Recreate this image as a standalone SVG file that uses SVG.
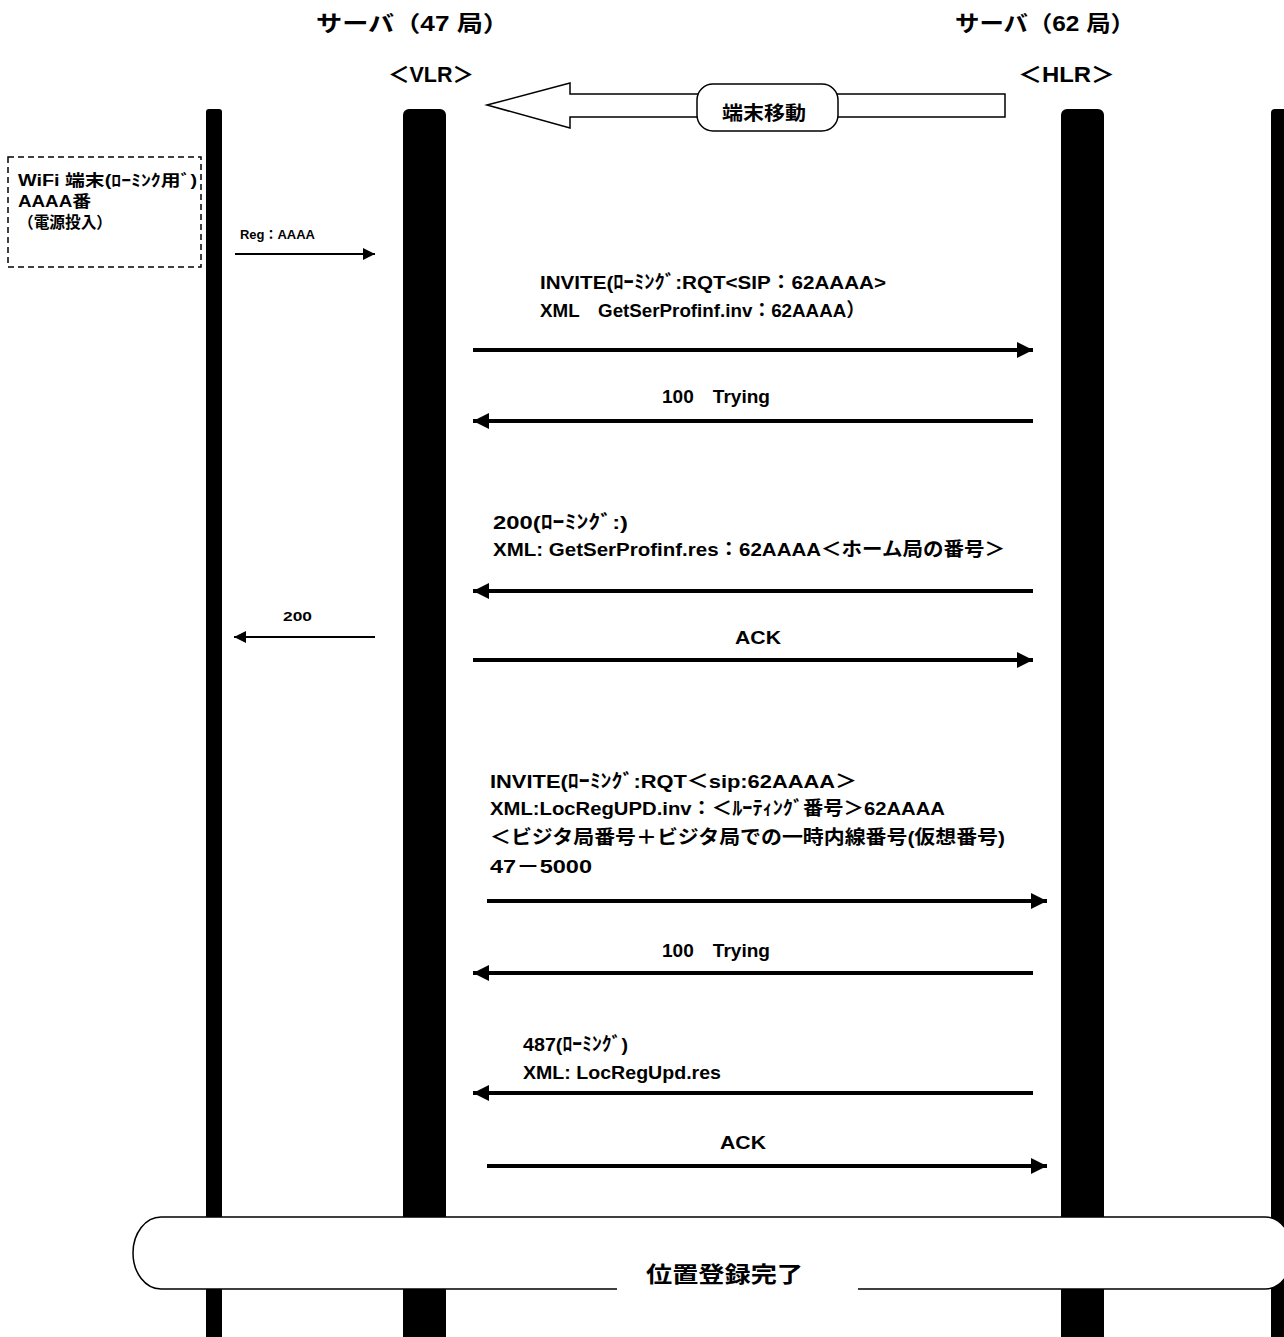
<svg xmlns="http://www.w3.org/2000/svg" width="1284" height="1337" viewBox="0 0 1284 1337">
<style>
text{font-family:"Liberation Sans","Noto Sans CJK JP",sans-serif;font-weight:bold;fill:#000}
.m{font-size:19px}
.s{font-size:13px}
.h{font-size:22px}
.msg{stroke:#000;stroke-width:4;fill:none}
.thin{stroke:#000;stroke-width:2;fill:none}
</style>
<defs>
<marker id="ah" viewBox="0 0 10 10" refX="10" refY="5" markerWidth="4.5" markerHeight="4" orient="auto" markerUnits="strokeWidth"><path d="M0,0 L10,5 L0,10 Z" fill="#000"/></marker>
<marker id="ahs" viewBox="0 0 10 10" refX="10" refY="5" markerWidth="8" markerHeight="6" orient="auto" markerUnits="strokeWidth"><path d="M0,0 L10,5 L0,10 Z" fill="#000"/></marker>
</defs>
<rect width="1284" height="1337" fill="#fff"/>

<g id="headers">
<text class="h" x="316" y="31" textLength="193" lengthAdjust="spacingAndGlyphs">サーバ（47 局）</text>
<text class="h" x="388" y="82" textLength="86" lengthAdjust="spacingAndGlyphs">＜VLR＞</text>
<text class="h" x="955" y="31" textLength="180" lengthAdjust="spacingAndGlyphs">サーバ（62 局）</text>
<text class="h" x="1018" y="82" textLength="97" lengthAdjust="spacingAndGlyphs">＜HLR＞</text>
</g>

<g id="lifeline-terminal"><rect x="206" y="109" width="16" height="1240" rx="3" fill="#000"/></g>
<g id="lifeline-vlr"><rect x="403" y="109" width="43" height="1240" rx="6" fill="#000"/></g>
<g id="lifeline-hlr"><rect x="1061" y="109" width="43" height="1240" rx="6" fill="#000"/></g>
<g id="lifeline-right"><rect x="1271" y="109" width="20" height="1240" rx="4" fill="#000"/></g>

<g id="move-arrow">
<path d="M487,105 L570,83 L570,94 L1005,94 L1005,117 L570,117 L570,128 Z" fill="#fff" stroke="#000" stroke-width="1.5"/>
<rect x="697" y="84" width="141" height="47" rx="16" fill="#fff" stroke="#000" stroke-width="1.5"/>
<text x="722" y="120" style="font-size:19px" textLength="84" lengthAdjust="spacingAndGlyphs">端末移動</text>
</g>

<g id="terminal-box">
<rect x="8" y="157" width="193" height="110" fill="none" stroke="#000" stroke-width="1.5" stroke-dasharray="6,4"/>
<text x="18" y="186" style="font-size:16px" textLength="179" lengthAdjust="spacingAndGlyphs">WiFi 端末(ﾛｰﾐﾝｸ用ﾞ)</text>
<text x="18" y="207" style="font-size:16px" textLength="73" lengthAdjust="spacingAndGlyphs">AAAA番</text>
<text x="18" y="228" style="font-size:16px" textLength="94" lengthAdjust="spacingAndGlyphs">（電源投入）</text>
</g>

<g id="connectors">
<line class="thin" x1="235" y1="254" x2="375" y2="254" marker-end="url(#ahs)"/>
<line class="msg" x1="473" y1="350" x2="1033" y2="350" marker-end="url(#ah)"/>
<line class="msg" x1="1033" y1="421" x2="473" y2="421" marker-end="url(#ah)"/>
<line class="msg" x1="1033" y1="591" x2="473" y2="591" marker-end="url(#ah)"/>
<line class="thin" x1="375" y1="637" x2="234" y2="637" marker-end="url(#ahs)"/>
<line class="msg" x1="473" y1="660" x2="1033" y2="660" marker-end="url(#ah)"/>
<line class="msg" x1="487" y1="901" x2="1047" y2="901" marker-end="url(#ah)"/>
<line class="msg" x1="1033" y1="973" x2="473" y2="973" marker-end="url(#ah)"/>
<line class="msg" x1="1033" y1="1093" x2="473" y2="1093" marker-end="url(#ah)"/>
<line class="msg" x1="487" y1="1166" x2="1047" y2="1166" marker-end="url(#ah)"/>
</g>

<g id="labels">
<text class="s" x="240" y="239" textLength="75" lengthAdjust="spacingAndGlyphs">Reg：AAAA</text>
<text class="m" x="540" y="289" textLength="346" lengthAdjust="spacingAndGlyphs">INVITE(ﾛｰﾐﾝｸﾞ:RQT&lt;SIP：62AAAA&gt;</text>
<text class="m" x="540" y="317" textLength="325" lengthAdjust="spacingAndGlyphs">XML　GetSerProfinf.inv：62AAAA）</text>
<text class="m" x="662" y="403" textLength="108" lengthAdjust="spacingAndGlyphs">100　Trying</text>
<text class="m" x="493" y="529" textLength="135" lengthAdjust="spacingAndGlyphs">200(ﾛｰﾐﾝｸﾞ:)</text>
<text class="m" x="493" y="556" textLength="512" lengthAdjust="spacingAndGlyphs">XML: GetSerProfinf.res：62AAAA＜ホーム局の番号＞</text>
<text class="s" x="283" y="621" textLength="29" lengthAdjust="spacingAndGlyphs">200</text>
<text class="m" x="735" y="644" textLength="46" lengthAdjust="spacingAndGlyphs">ACK</text>
<text class="m" x="490" y="788" textLength="367" lengthAdjust="spacingAndGlyphs">INVITE(ﾛｰﾐﾝｸﾞ:RQT＜sip:62AAAA＞</text>
<text class="m" x="490" y="815" textLength="455" lengthAdjust="spacingAndGlyphs">XML:LocRegUPD.inv：＜ﾙｰﾃｨﾝｸﾞ番号＞62AAAA</text>
<text class="m" x="490" y="844" textLength="515" lengthAdjust="spacingAndGlyphs">＜ビジタ局番号＋ビジタ局での一時内線番号(仮想番号)</text>
<text class="m" x="490" y="873" textLength="102" lengthAdjust="spacingAndGlyphs">47－5000</text>
<text class="m" x="662" y="957" textLength="108" lengthAdjust="spacingAndGlyphs">100　Trying</text>
<text class="m" x="523" y="1051" textLength="105" lengthAdjust="spacingAndGlyphs">487(ﾛｰﾐﾝｸﾞ)</text>
<text class="m" x="523" y="1079" textLength="198" lengthAdjust="spacingAndGlyphs">XML: LocRegUpd.res</text>
<text class="m" x="720" y="1149" textLength="46" lengthAdjust="spacingAndGlyphs">ACK</text>
</g>

<g id="complete-band">
<rect x="133" y="1217" width="1160" height="72" rx="28" ry="36" fill="#fff" stroke="#000" stroke-width="1.5"/>
<rect x="617" y="1286" width="241" height="5" fill="#fff"/>
<text x="646" y="1282" style="font-size:22px" textLength="157" lengthAdjust="spacingAndGlyphs">位置登録完了</text>
</g>
</svg>
